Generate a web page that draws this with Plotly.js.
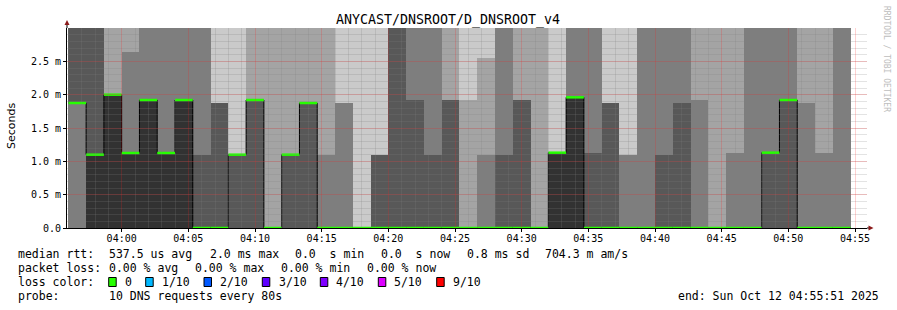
<!DOCTYPE html>
<html><head><meta charset="utf-8">
<script src="https://cdn.plot.ly/plotly-3.0.1.min.js"></script>
<style>html,body{margin:0;padding:0;background:#fff;}#chart{width:897px;height:310px;}</style>
</head><body><div id="chart"></div>
<script>
// ---------------- data ----------------
const chartTitle = 'ANYCAST/DNSROOT/D_DNSROOT_v4';
const day = '2025-10-12';
const stepSeconds = 80;
const rangeStart = '03:55:54';
const rangeEnd = '04:55:54';
// start of each 80 s interval
const times = ['03:56:00','03:57:20','03:58:40','04:00:00','04:01:20','04:02:40','04:04:00','04:05:20','04:06:40','04:08:00',
               '04:09:20','04:10:40','04:12:00','04:13:20','04:14:40','04:16:00','04:17:20','04:18:40','04:20:00','04:21:20',
               '04:22:40','04:24:00','04:25:20','04:26:40','04:28:00','04:29:20','04:30:40','04:32:00','04:33:20','04:34:40',
               '04:36:00','04:37:20','04:38:40','04:40:00','04:41:20','04:42:40','04:44:00','04:45:20','04:46:40','04:48:00',
               '04:49:20','04:50:40','04:52:00','04:53:20'];
// 10 sorted ping times per interval, in ms (3.0 = top of graph)
const pings = [
  [0,0,0,1.875,1.875,1.875,3,3,3,3],
  [0,0,0,0,0,1.1,3,3,3,3],
  [0,0,0,0,0,2.0,2.0,2.0,3,3],
  [0,0,0,0,0,1.125,1.125,2.64,3,3],
  [0,0,0,0,0,1.92,1.92,3,3,3],
  [0,0,0,0,0,1.125,1.125,3,3,3],
  [0,0,0,0,0,1.92,1.92,3,3,3],
  [0,0,0,0,0,0,1.1,3,3,3],
  [0,0,0,0,0,0,1.875,1.875,1.875,3],
  [0,0,0,0,1.1,1.1,1.1,1.1,1.1,3],
  [0,0,0,0,1.92,1.92,1.92,1.92,3,3],
  [0,0,0,0,0,0,0,0,3,3],
  [0,0,0,0,1.1,1.1,1.1,1.1,3,3],
  [0,0,0,0,1.875,1.875,1.875,1.875,3,3],
  [0,0,0,0,0,0,0,1.1,3,3],
  [0,0,0,0,0,0,0,1.875,1.875,3],
  [0,0,0,0,0,0,0,0,0,3],
  [0,0,0,0,0,0,1.1,1.1,1.1,3],
  [0,0,0,0,0,0,3,3,3,3],
  [0,0,0,0,0,0,1.92,3,3,3],
  [0,0,0,0,0,0,1.1,3,3,3],
  [0,0,0,0,0,0,1.92,1.92,3,3],
  [0,0,0,0,0,0,0,0,1.92,3],
  [0,0,0,0,0,0,0,1.1,2.55,3],
  [0,0,0,0,0,0,1.1,3,3,3],
  [0,0,0,0,0,0,1.92,1.92,3,3],
  [0,0,0,0,0,0,0,0,3,3],
  [0,0,0,0,0,1.13,1.13,1.13,1.13,3],
  [0,0,0,0,0,1.96,1.96,3,3,3],
  [0,0,0,0,0,0,1.12,3,3,3],
  [0,0,0,0,0,0,1.875,1.875,1.875,3],
  [0,0,0,0,0,0,0,1.1,1.1,3],
  [0,0,0,0,0,0,0,3,3,3],
  [0,0,0,0,0,0,1.1,3,3,3],
  [0,0,0,0,0,0,1.875,3,3,3],
  [0,0,0,0,0,0,0,1.92,3,3],
  [0,0,0,0,0,0,0,0,3,3],
  [0,0,0,0,0,0,0,1.125,3,3],
  [0,0,0,0,0,0,0,3,3,3],
  [0,0,0,0,1.13,1.13,1.13,3,3,3],
  [0,0,0,0,1.92,1.92,1.92,3,3,3],
  [0,0,0,0,0,0,0,1.875,3,3],
  [0,0,0,0,0,0,0,1.125,3,3],
  [0,0,0,0,0,0,0,3,3,3]
];
const median = [1.875,1.1,2.0,1.125,1.92,1.125,1.92,0,0,1.1,1.92,0,1.1,1.875,0,0,0,0,0,0,
                0,0,0,0,0,0,0,1.13,1.96,0,0,0,0,0,0,0,0,0,0,1.13,1.92,0,0,0];
const smokeColors = ['#cacaca','#a4a4a4','#7e7e7e','#585858','#323232'];
const yTickValues = [0,0.5,1,1.5,2,2.5];
const yTickLabels = ['0.0','0.5 m','1.0 m','1.5 m','2.0 m','2.5 m'];
const lossNames = ['0','1/10','2/10','3/10','4/10','5/10','9/10'];
const lossColors = ['#26ff00','#00b8ff','#0059ff','#5e00ff','#7e00ff','#dd00ff','#ff0000'];
const rttStats = ['median rtt:','537.5 us avg','2.0 ms max','0.0  s min','0.0  s now','0.8 ms sd','704.3 m am/s'];
const lossStats = ['packet loss:','0.00 % avg','0.00 % max','0.00 % min','0.00 % now'];
const lossLabel = 'loss color:';
const probeStats = ['probe:','10 DNS requests every 80s'];
const endText = 'end: Sun Oct 12 04:55:51 2025';
const watermark = 'RRDTOOL / TOBI OETIKER';
const yTitle = 'Seconds';

// ---------------- helpers ----------------
function pad(n){return (n<10?'0':'')+n;}
function toSec(hms){const a=hms.split(':').map(Number);return a[0]*3600+a[1]*60+a[2];}
function stamp(sec){return day+' '+pad(Math.floor(sec/3600))+':'+pad(Math.floor(sec%3600/60))+':'+pad(sec%60);}
const PL=67, PR=867, PT=28, PB=228;
function px(x){return (x-PL)/(PR-PL);}
function py(y){return (PB-y)/(PB-PT);}
function nb(s){return s.replace(/ /g,'\u00a0');}
const mono='DejaVu Sans Mono';

// ---------------- traces ----------------
const xs = times.map(t=>stamp(toSec(t)));
const traces = [];
for(let i=0;i<5;i++){
  traces.push({type:'bar', x:xs, base:pings.map(p=>p[i]), y:pings.map(p=>p[9-i]-p[i]),
    offset:0, width:stepSeconds*1000, marker:{color:smokeColors[i], line:{width:0}},
    xaxis:'x', yaxis:'y', hoverinfo:'skip', showlegend:false});
}
const lastEnd = toSec(times[times.length-1])+stepSeconds;
traces.push({type:'scatter', mode:'lines', x:xs.concat([stamp(lastEnd)]), y:median.concat([median[median.length-1]]),
  line:{shape:'hv', color:'#000', width:1}, xaxis:'x', yaxis:'y', hoverinfo:'skip', showlegend:false});
const gx=[], gy=[];
times.forEach((t,k)=>{const s=toSec(t); gx.push(stamp(s),stamp(s+stepSeconds),null); gy.push(median[k],median[k],null);});
traces.push({type:'scatter', mode:'lines', x:gx, y:gy, line:{color:lossColors[0], width:2.5},
  xaxis:'x', yaxis:'y', hoverinfo:'skip', showlegend:false, connectgaps:false});
traces.push({type:'scatter', mode:'lines', x:[], y:[], xaxis:'x2', yaxis:'y2', hoverinfo:'skip', showlegend:false});

// ---------------- annotations ----------------
const ann=[];
function addText(t,x,y,o){ann.push(Object.assign({text:nb(t), x:px(x), y:py(y), xref:'paper', yref:'paper', showarrow:false,
  xanchor:'left', yanchor:'middle', font:{family:mono, size:11.5, color:'#000'}},o||{}));}
const rttX=[16,107.3,207.7,293.3,379.3,465,543.3];
rttStats.forEach((t,i)=>addText(t,rttX[i],254));
const lossX=[16,107.3,193.3,279.3,365.3];
lossStats.forEach((t,i)=>addText(t,lossX[i],268));
addText(lossLabel,16,282);
const boxX=[108.7,145.7,204,262.3,320.3,378.3,436.7];
const labX=[123.3,160,218.3,276.7,334,392.3,450.7];
const shapes=[];
lossNames.forEach((n,i)=>{
  addText(n,labX[i],282);
  shapes.push({type:'rect', xref:'paper', yref:'paper', x0:px(boxX[i]), x1:px(boxX[i]+7.5), y0:py(286.5), y1:py(277.5),
    fillcolor:lossColors[i], line:{color:'#000', width:1}});
});
addText(probeStats[0],16,296);
addText(probeStats[1],107.3,296);
addText(endText,881,296,{xanchor:'right'});
ann.push({text:yTitle, x:px(11), y:py(126), xref:'paper', yref:'paper', showarrow:false, textangle:-90,
  xanchor:'center', yanchor:'middle', font:{family:'DejaVu Sans', size:11, color:'#000'}});
ann.push({text:nb(watermark), x:px(887), y:py(59), xref:'paper', yref:'paper', showarrow:false, textangle:90,
  xanchor:'center', yanchor:'middle', font:{family:mono, size:8, color:'#bdbdbd'}});

// axis arrows
const arrowCol='#8b1a1a';
shapes.push({type:'line', xref:'paper', yref:'paper', x0:0, x1:0, y0:1, y1:py(24), line:{color:'#000', width:1}});
shapes.push({type:'path', xref:'paper', yref:'paper', path:'M '+px(64.5)+','+py(25)+' L '+px(69.5)+','+py(25)+' L '+px(67)+','+py(20)+' Z',
  fillcolor:arrowCol, line:{color:arrowCol, width:0}});
shapes.push({type:'line', xref:'paper', yref:'paper', x0:1, x1:px(869), y0:0, y1:0, line:{color:'#000', width:1}});
shapes.push({type:'path', xref:'paper', yref:'paper', path:'M '+px(868.5)+','+py(225.5)+' L '+px(868.5)+','+py(230.5)+' L '+px(873.5)+','+py(228)+' Z',
  fillcolor:arrowCol, line:{color:arrowCol, width:0}});

const majorGrid='rgba(255,30,30,0.2)', minorGrid='rgba(128,128,128,0.22)';
const xr=[day+' '+rangeStart, day+' '+rangeEnd];
const layout={
  width:897, height:310, autosize:false,
  margin:{l:PL, r:897-PR, t:PT, b:310-PB, pad:0},
  paper_bgcolor:'#ffffff', plot_bgcolor:'rgba(0,0,0,0)',
  barmode:'overlay', bargap:0, showlegend:false,
  title:{text:chartTitle, font:{family:mono, size:13.3, color:'#000'}, xref:'container', yref:'container',
    x:448/897, xanchor:'center', y:1-19/310, yanchor:'middle'},
  xaxis:{type:'date', range:xr, visible:false, anchor:'y', domain:[0,1], fixedrange:true},
  yaxis:{range:[0,3], visible:false, anchor:'x', domain:[0,1], fixedrange:true},
  xaxis2:{type:'date', range:xr, anchor:'y2', domain:[0,1], fixedrange:true,
    tick0:day+' 04:00:00', dtick:300000, tickformat:'%H:%M',
    showgrid:true, gridcolor:majorGrid, griddash:'solid', gridwidth:1, zeroline:false,
    ticks:'outside', ticklen:3, tickcolor:'#000', showline:true, linecolor:'#000', linewidth:1,
    ticklabelstandoff:-2,
    tickfont:{family:mono, size:10, color:'#000'},
    minor:{dtick:60000, showgrid:true, gridcolor:minorGrid, griddash:'solid', gridwidth:1}},
  yaxis2:{range:[0,3], anchor:'x2', domain:[0,1], fixedrange:true,
    tickmode:'array', tickvals:yTickValues, ticktext:yTickLabels,
    showgrid:true, gridcolor:majorGrid, griddash:'solid', gridwidth:1, zeroline:false,
    ticks:'outside', ticklen:3, tickcolor:'#000', showline:true, linecolor:'#000', linewidth:1,
    tickfont:{family:mono, size:10, color:'#000'},
    minor:{tickmode:'linear', tick0:0, dtick:0.1, showgrid:true, gridcolor:minorGrid, griddash:'solid', gridwidth:1}},
  annotations:ann, shapes:shapes
};
Plotly.newPlot('chart', traces, layout, {staticPlot:true, displayModeBar:false});
</script>
</body></html>
